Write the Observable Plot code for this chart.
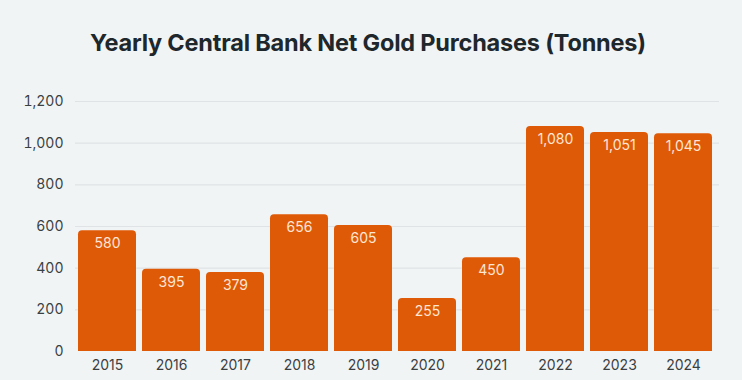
<!DOCTYPE html>
<html>
<head>
<meta charset="utf-8">
<script src="https://cdn.jsdelivr.net/npm/d3@7"></script>
<script src="https://cdn.jsdelivr.net/npm/@observablehq/plot@0.6"></script>
<style>
  html, body { margin: 0; padding: 0; background: #f1f4f5; }
  body { width: 742px; height: 380px; overflow: hidden; font-family: Inter, "Noto Sans", sans-serif; }
  #title { height: 80px; line-height: 86px; text-align: center; font-size: 23.5px; font-weight: 700; color: #1e272c; letter-spacing: -0.2px; padding-right: 6px; }
  #chart svg { display: block; }
</style>
</head>
<body>
<div id="title">Yearly Central Bank Net Gold Purchases (Tonnes)</div>
<div id="chart"></div>
<script>
const years = ["2015","2016","2017","2018","2019","2020","2021","2022","2023","2024"];
const tonnes = [580, 395, 379, 656, 605, 255, 450, 1080, 1051, 1045];
const yTicks = [0, 200, 400, 600, 800, 1000, 1200];

const data = years.map((year, i) => ({year, value: tonnes[i]}));
const fmt = d3.format(",");

const chart = Plot.plot({
  width: 742,
  height: 300,
  marginTop: 21,
  marginBottom: 29,
  marginLeft: 75,
  marginRight: 27,
  style: {background: "transparent", fontFamily: "Inter, 'Noto Sans', sans-serif", fontSize: "14px", color: "#3a3f42"},
  x: {domain: years, paddingInner: 0.1, paddingOuter: 0, label: null, tickSize: 0, tickPadding: 9},
  y: {domain: [0, 1200], ticks: yTicks, label: null, tickSize: 0, tickPadding: 12, tickFormat: fmt},
  marks: [
    Plot.ruleY(yTicks.filter(d => d > 0), {stroke: "#dfe3e6", strokeWidth: 1.2, insetRight: -4}),
    Plot.barY(data, {x: "year", y1: -40, y2: "value", fill: "#df5a07", rx: 4, clip: true}),
    Plot.text(data, {x: "year", y: "value", text: d => fmt(d.value), dy: 13, fill: "#fde6d5", fontSize: 14})
  ]
});
document.getElementById("chart").append(chart);
</script>
</body>
</html>
